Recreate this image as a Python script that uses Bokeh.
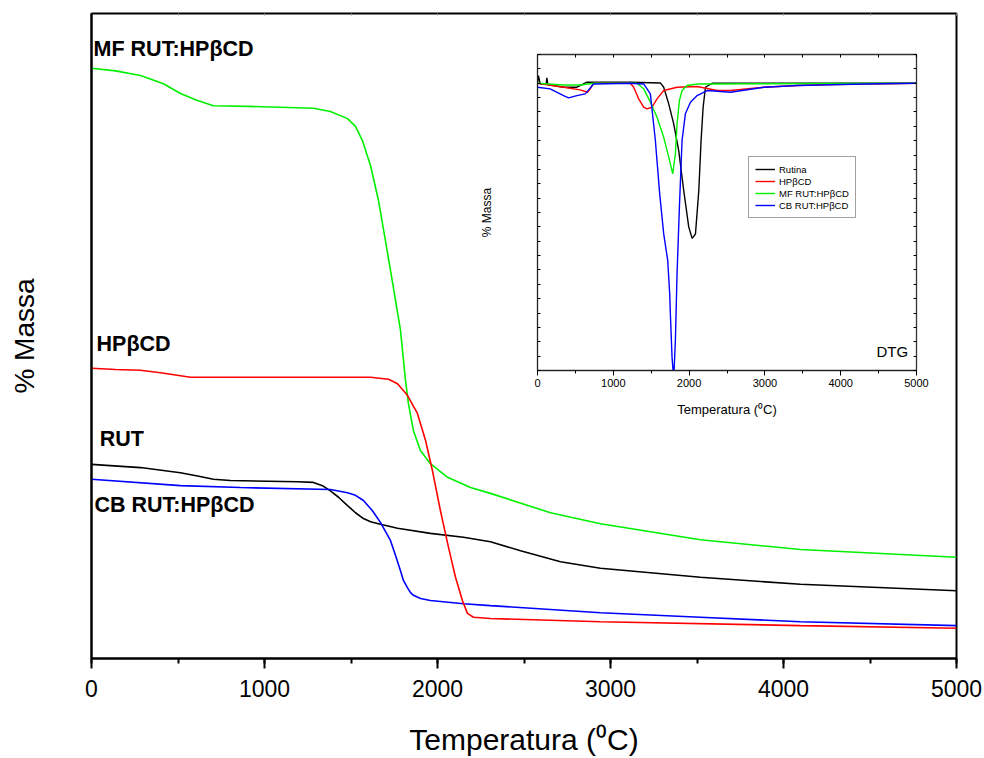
import numpy as np
from bokeh.plotting import figure
from bokeh.models import (Range1d, LinearAxis, SingleIntervalTicker, CustomJSTickFormatter,
                          Label, InlineStyleSheet)
from bokeh.embed import file_html
from bokeh.resources import INLINE

# ---------------- main TG data (temperature, % mass, arbitrary 0-100 scale) ----------------
temp_mf = [0, 139, 283, 416, 514, 613, 705, 902, 1283, 1381, 1480, 1526, 1566, 1613, 1659, 1699,
           1740, 1786, 1815, 1832, 1861, 1902, 1959, 2058, 2191, 2306, 2653, 2942, 3520, 4098, 5000]
mass_mf = [91.5, 91.1, 90.4, 89.1, 87.6, 86.5, 85.7, 85.6, 85.3, 84.8, 83.7, 82.5, 80.3, 76.4, 71.0,
           64.8, 58.3, 50.9, 43.1, 39.5, 35.3, 32.2, 30.2, 28.1, 26.5, 25.6, 22.6, 20.9, 18.4, 16.9, 15.7]

temp_hp = [0, 139, 283, 399, 572, 1613, 1717, 1769, 1826, 1884, 1931, 1971, 2017, 2064, 2104, 2144,
           2173, 2208, 2306, 2942, 4098, 5000]
mass_hp = [45.0, 44.8, 44.7, 44.3, 43.6, 43.6, 43.3, 42.6, 40.8, 38.0, 33.8, 29.1, 22.9, 17.2, 12.6,
           9.0, 7.0, 6.4, 6.2, 5.7, 5.1, 4.7]

temp_rut = [0, 283, 514, 613, 705, 803, 1191, 1283, 1335, 1381, 1428, 1480, 1526, 1572, 1613, 1670,
            1769, 1959, 2150, 2306, 2480, 2711, 2942, 3520, 4098, 5000]
mass_rut = [30.1, 29.6, 28.8, 28.3, 27.8, 27.6, 27.4, 27.3, 26.8, 26.0, 25.0, 23.7, 22.6, 21.7, 21.2,
            20.8, 20.2, 19.4, 18.8, 18.1, 16.7, 15.0, 14.0, 12.6, 11.5, 10.5]

temp_cb = [0, 514, 861, 1381, 1480, 1526, 1572, 1624, 1670, 1728, 1757, 1786, 1803, 1826, 1844, 1861,
           1902, 1959, 2150, 2306, 2942, 3520, 4098, 5000]
mass_cb = [27.8, 26.8, 26.5, 26.2, 25.7, 25.3, 24.5, 22.9, 21.1, 18.3, 16.0, 13.6, 12.1, 11.0, 10.2,
           9.8, 9.3, 9.0, 8.5, 8.2, 7.1, 6.4, 5.7, 5.1]

# ---------------- inset DTG data ----------------
dtg_temp_rut = [0, 13, 35, 115, 123, 137, 344, 520, 652, 1225, 1621, 1665, 1731, 1797, 1863, 1929,
                1995, 2040, 2084, 2128, 2158, 2185, 2216, 2304, 3427, 5000]
dtg_rut = [0, 0.53, -0.05, -0.05, 0.37, -0.09, -0.28, -0.28, 0.07, 0.07, 0.02, -0.28, -1.44, -2.83,
           -4.69, -7.47, -10.0, -10.8, -10.5, -7.47, -3.99, -1.67, -0.28, 0, 0, 0]

dtg_temp_hp = [0, 344, 564, 661, 696, 740, 1225, 1269, 1335, 1401, 1445, 1511, 1577, 1665, 1841,
               2106, 2370, 2546, 2987, 3427, 3868, 5000]
dtg_hp = [0, -0.28, -0.46, -0.63, -0.39, 0, 0, -0.28, -1.09, -1.67, -1.79, -1.67, -1.09, -0.51,
          -0.28, -0.23, -0.51, -0.51, -0.28, -0.16, -0.09, 0]

dtg_temp_mf = [0, 344, 564, 740, 1313, 1401, 1489, 1577, 1665, 1731, 1784, 1819, 1841, 1872, 1907,
               1973, 2106, 5000]
dtg_mf = [0, -0.12, -0.12, 0, 0, -0.39, -1.32, -2.37, -3.76, -5.15, -6.31, -4.92, -2.83, -1.21,
          -0.51, -0.16, -0.05, 0]

dtg_temp_cb = [0, 167, 344, 410, 520, 630, 740, 1225, 1401, 1489, 1555, 1612, 1665, 1718, 1744, 1753,
               1775, 1797, 1819, 1841, 1872, 1907, 1951, 2018, 2106, 2238, 2546, 2987, 3427, 4308, 5000]
dtg_cb = [-0.28, -0.39, -0.86, -1.02, -0.86, -0.74, -0.05, 0, -0.05, -0.74, -3.99, -7.70, -10.49,
          -12.34, -14.66, -16.06, -19.07, -20.6, -17.91, -13.27, -8.63, -3.99, -2.13, -1.32, -0.86,
          -0.51, -0.63, -0.28, -0.16, -0.05, 0]

legend_names = ["Rutina", "HP\u03b2CD", "MF RUT:HP\u03b2CD", "CB RUT:HP\u03b2CD"]
curve_labels = ["MF RUT:HP\u03b2CD", "HP\u03b2CD", "RUT", "CB RUT:HP\u03b2CD"]
x_ticks_step = 1000

FONT = "Liberation Sans"
GREEN, RED, BLUE, BLACK = "#00f000", "#ff0000", "#0000ff", "#000000"
empty_fmt = CustomJSTickFormatter(code="return ''")

# ================= main figure =================
p = figure(width=984, height=758, x_range=Range1d(0, 5000), y_range=Range1d(0, 100),
           output_backend="svg", toolbar_location=None,
           min_border_left=91, min_border_right=28, min_border_top=13, min_border_bottom=100)
p.xgrid.visible = False
p.ygrid.visible = False
p.outline_line_color = "black"
p.outline_line_width = 2
p.background_fill_color = "white"
p.border_fill_color = "white"

xa = p.xaxis[0]
xa.ticker = SingleIntervalTicker(interval=x_ticks_step, num_minor_ticks=2)
xa.axis_line_width = 2
xa.major_tick_line_width = 2
xa.minor_tick_line_width = 2
xa.major_tick_out = 10
xa.major_tick_in = 0
xa.minor_tick_out = 5
xa.minor_tick_in = 0
xa.major_label_text_font = FONT
xa.major_label_text_font_size = "23px"
xa.major_label_text_color = "black"
xa.major_label_standoff = 11
xa.axis_label = "Temperatura (\u2070C)"
xa.axis_label_text_font = FONT
xa.axis_label_text_font_size = "30px"
xa.axis_label_text_font_style = "normal"
xa.axis_label_text_color = "black"
xa.axis_label_standoff = 23

ya = p.yaxis[0]
ya.axis_line_width = 2
ya.major_tick_line_color = None
ya.minor_tick_line_color = None
ya.major_tick_out = 0
ya.major_tick_in = 0
ya.minor_tick_out = 0
ya.minor_tick_in = 0
ya.formatter = empty_fmt
ya.major_label_standoff = 5
ya.axis_label = "% Massa"
ya.axis_label_text_font = FONT
ya.axis_label_text_font_size = "28px"
ya.axis_label_text_font_style = "normal"
ya.axis_label_text_color = "black"
ya.axis_label_standoff = 52

top_ax = LinearAxis(ticker=SingleIntervalTicker(interval=500, num_minor_ticks=0),
                    formatter=empty_fmt, axis_line_color=None,
                    major_tick_in=2, major_tick_out=0, major_tick_line_color="#999999",
                    minor_tick_line_color=None, major_label_standoff=0)
p.add_layout(top_ax, "above")

lw = 1.6
p.line(temp_mf, mass_mf, line_color=GREEN, line_width=lw)
p.line(temp_rut, mass_rut, line_color=BLACK, line_width=lw)
p.line(temp_cb, mass_cb, line_color=BLUE, line_width=lw)
p.line(temp_hp, mass_hp, line_color=RED, line_width=lw)

label_pos = [(12, 94.5), (29, 48.7), (48, 34.0), (17, 23.8)]
for txt, (lx, ly) in zip(curve_labels, label_pos):
    p.add_layout(Label(x=lx, y=ly, text=txt, text_font=FONT, text_font_size="21.5px",
                       text_font_style="bold", text_color="black", text_baseline="alphabetic"))

# ================= inset figure =================
inset = figure(width=460, height=380, x_range=Range1d(0, 5000), y_range=Range1d(-20, 2),
               output_backend="svg", toolbar_location=None,
               min_border_left=67, min_border_right=14, min_border_top=9, min_border_bottom=55)
inset.stylesheets = [InlineStyleSheet(css=":host { position: absolute !important; left: 470px !important; top: 45px !important; }")]
inset.xgrid.visible = False
inset.ygrid.visible = False
inset.outline_line_color = "#333333"
inset.outline_line_width = 1.3
inset.background_fill_color = "white"
inset.border_fill_alpha = 0

ix = inset.xaxis[0]
ix.ticker = SingleIntervalTicker(interval=x_ticks_step, num_minor_ticks=2)
ix.axis_line_color = "#222222"
ix.major_tick_out = 5
ix.major_tick_in = 0
ix.minor_tick_out = 3
ix.minor_tick_in = 0
ix.major_label_text_font = FONT
ix.major_label_text_font_size = "11px"
ix.major_label_text_color = "black"
ix.major_label_standoff = 3
ix.axis_label = "Temperatura (\u2070C)"
ix.axis_label_text_font = FONT
ix.axis_label_text_font_size = "13px"
ix.axis_label_text_font_style = "normal"
ix.axis_label_text_color = "black"
ix.axis_label_standoff = 12

iy = inset.yaxis[0]
iy.ticker = SingleIntervalTicker(interval=1, num_minor_ticks=0)
iy.axis_line_color = "#222222"
iy.major_tick_in = 3
iy.major_tick_out = 0
iy.minor_tick_line_color = None
iy.formatter = empty_fmt
iy.major_label_standoff = 0
iy.axis_label = "% Massa"
iy.axis_label_text_font = FONT
iy.axis_label_text_font_size = "12px"
iy.axis_label_text_font_style = "normal"
iy.axis_label_text_color = "black"
iy.axis_label_standoff = 44

iright = LinearAxis(ticker=SingleIntervalTicker(interval=1, num_minor_ticks=0), formatter=empty_fmt,
                    axis_line_color=None, major_tick_in=3, major_tick_out=0,
                    minor_tick_line_color=None, major_label_standoff=0)
inset.add_layout(iright, "right")
itop = LinearAxis(ticker=SingleIntervalTicker(interval=500, num_minor_ticks=0), formatter=empty_fmt,
                  axis_line_color=None, major_tick_in=3, major_tick_out=0,
                  minor_tick_line_color=None, major_label_standoff=0)
inset.add_layout(itop, "above")

ilw = 1.4
inset.line(dtg_temp_rut, dtg_rut, line_color=BLACK, line_width=ilw, legend_label=legend_names[0])
inset.line(dtg_temp_hp, dtg_hp, line_color=RED, line_width=ilw, legend_label=legend_names[1])
inset.line(dtg_temp_mf, dtg_mf, line_color=GREEN, line_width=ilw, legend_label=legend_names[2])
inset.line(dtg_temp_cb, dtg_cb, line_color=BLUE, line_width=ilw, legend_label=legend_names[3])

lg = inset.legend[0]
lg.location = (211, 152)
lg.label_text_font = FONT
lg.label_text_font_size = "9.5px"
lg.label_text_color = "black"
lg.glyph_width = 20
lg.glyph_height = 12
lg.label_height = 12
lg.label_standoff = 4
lg.spacing = 0
lg.padding = 6
lg.margin = 0
lg.border_line_color = "#444444"
lg.border_line_width = 1
lg.background_fill_alpha = 1

inset.add_layout(Label(x=4890, y=-18.7, text="DTG", text_font=FONT, text_font_size="15px",
                       text_align="right", text_baseline="alphabetic", text_color="black"))

open("out.html", "w").write(file_html([p, inset], INLINE))
